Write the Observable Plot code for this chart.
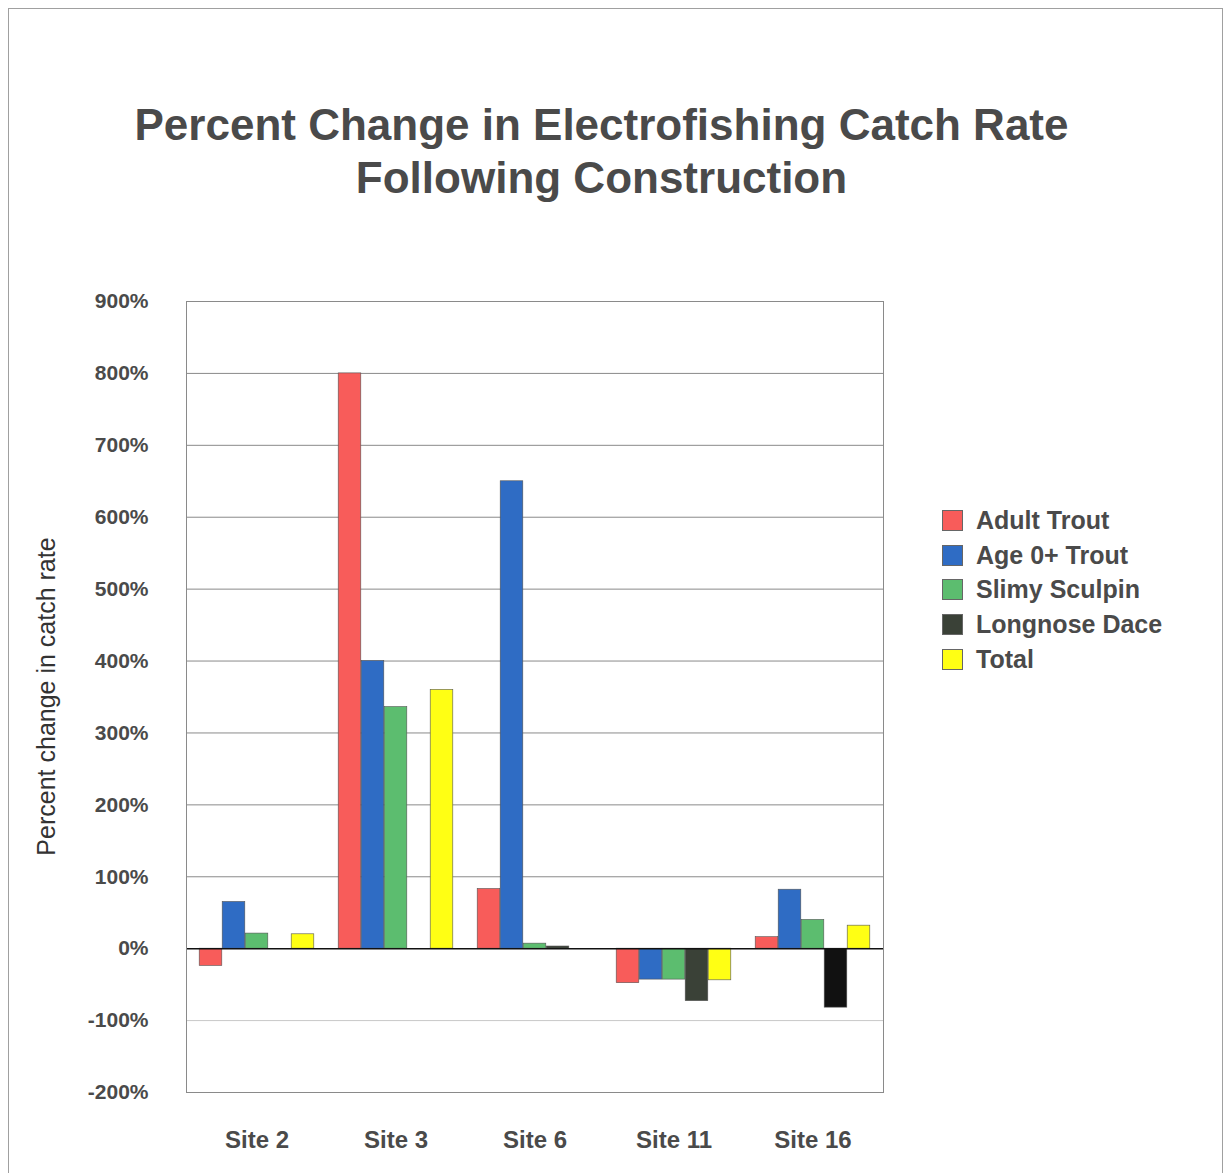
<!DOCTYPE html>
<html>
<head>
<meta charset="utf-8">
<script src="https://cdn.jsdelivr.net/npm/d3@7"></script>
<script src="https://cdn.jsdelivr.net/npm/@observablehq/plot@0.6"></script>
<style>
  html, body { margin: 0; padding: 0; background: #fff; }
  body { width: 1231px; height: 1173px; position: relative; overflow: hidden; font-family: "Liberation Sans", Arial, sans-serif; }
  #border { position: absolute; left: 8px; top: 8px; width: 1215px; height: 1200px; border: 1px solid #a0a0a0; box-sizing: border-box; }
  #title { position: absolute; left: 0; width: 1203px; top: 98px; text-align: center; font-weight: bold; font-size: 44px; line-height: 53px; color: #4a4a4a; }
  #chart { position: absolute; left: 0; top: 250px; }
  #legend { position: absolute; left: 942px; top: 503px; }
  .item { display: flex; align-items: center; height: 34.7px; font-weight: bold; font-size: 25px; color: #4a4a4a; }
  .sw { width: 21px; height: 21px; margin-right: 13px; box-sizing: border-box; border: 1px solid #666; }
  #chart svg text { font-family: "Liberation Sans", Arial, sans-serif; }
</style>
</head>
<body>
<div id="border"></div>
<div id="title">Percent Change in Electrofishing Catch Rate<br>Following Construction</div>
<div id="chart"></div>
<div id="legend"></div>
<script>
const sites = ["Site 2", "Site 3", "Site 6", "Site 11", "Site 16"];
const seriesNames = ["Adult Trout", "Age 0+ Trout", "Slimy Sculpin", "Longnose Dace", "Total"];
const adultTrout   = [-24, 800, 83, -48, 16];
const age0Trout    = [65, 400, 650, -43, 82];
const slimySculpin = [21, 336, 7, -43, 40];
const longnoseDace = [null, null, 3, -73, -82];
const total        = [20, 360, null, -44, 32];
const yTicks = [-200, -100, 0, 100, 200, 300, 400, 500, 600, 700, 800, 900];

const seriesValues = [adultTrout, age0Trout, slimySculpin, longnoseDace, total];
const colors = ["#f85c5a", "#2f6cc4", "#5cbd6f", "#3a4137", "#ffff14"];

const rows = [];
seriesNames.forEach((s, i) => sites.forEach((site, j) => {
  const v = seriesValues[i][j];
  if (v != null) rows.push({series: s, site, value: v});
}));

const W = 1231, H = 923;
const mL = 186, mR = 348, mT = 51, mB = 81;
const band = (W - mL - mR) / sites.length;
const bw = 23;
const pad = (band - bw * seriesNames.length) / 2;

const barMarks = seriesNames.map((s, i) => Plot.barY(rows.filter(d => d.series === s), {
  x: "site",
  y: "value",
  fill: d => (s === "Longnose Dace" && d.site === "Site 16") ? "#111111" : colors[i],
  stroke: "#555",
  strokeWidth: 0.6,
  insetLeft: pad + bw * i,
  insetRight: band - pad - bw * (i + 1)
}));

const chart = Plot.plot({
  width: W,
  height: H,
  marginLeft: mL,
  marginRight: mR,
  marginTop: mT,
  marginBottom: mB,
  style: {fontFamily: "Liberation Sans, Arial, sans-serif", fontSize: "21px", fontWeight: "bold", color: "#4a4a4a", background: "transparent"},
  color: {type: "identity"},
  x: {domain: sites, padding: 0, label: null, tickSize: 0, tickPadding: 38},
  y: {domain: [-200, 900], ticks: yTicks, tickFormat: d => d + "%", label: null, tickSize: 0, tickPadding: 38},
  marks: [
    Plot.ruleY(yTicks.filter(t => t !== 0 && t !== -100), {stroke: "#8a8a8a", strokeWidth: 1}),
    Plot.ruleY([-100], {stroke: "#c8c8c8", strokeWidth: 1}),
    ...barMarks,
    Plot.ruleY([0], {stroke: "#111", strokeWidth: 1.5}),
    Plot.frame({stroke: "#8a8a8a", strokeWidth: 1})
  ]
});
document.getElementById("chart").appendChild(chart);

// larger x tick labels
d3.select(chart).selectAll("g[aria-label='x-axis tick label'] text, g[aria-label='x-axis'] text").attr("font-size", 24);

// y axis title
d3.select(chart).append("text")
  .attr("transform", `translate(55,${mT + (H - mT - mB) / 2}) rotate(-90)`)
  .attr("text-anchor", "middle")
  .attr("font-size", 25)
  .attr("font-weight", "normal")
  .attr("fill", "#333")
  .text("Percent change in catch rate");

// legend
const leg = d3.select("#legend");
seriesNames.forEach((s, i) => {
  const it = leg.append("div").attr("class", "item");
  it.append("div").attr("class", "sw").style("background", colors[i]);
  it.append("span").text(s);
});
</script>
</body>
</html>
